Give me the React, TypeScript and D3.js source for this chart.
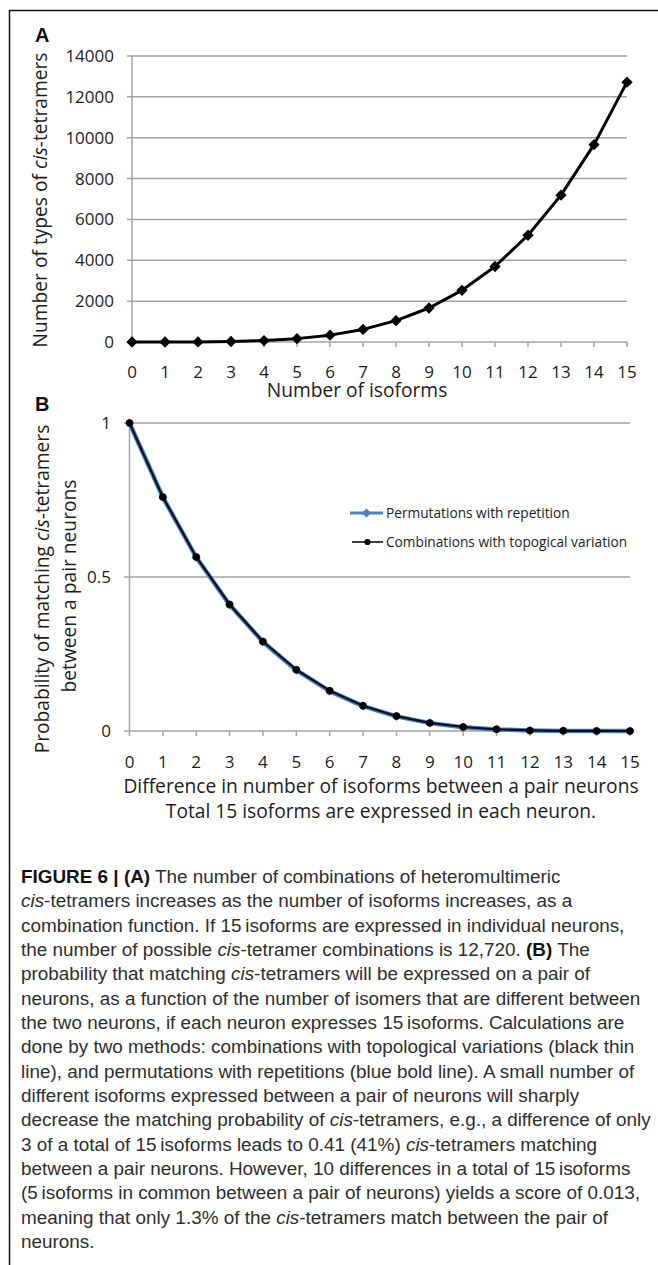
import React from "react";
import * as d3 from "d3";

// ---------- data ----------
const isoforms = d3.range(0, 16);
const tetramerTypes = [0, 1, 6, 24, 70, 165, 336, 616, 1044, 1665, 2530, 3696, 5226, 7189, 9660, 12720];
const yTicksA = [0, 2000, 4000, 6000, 8000, 10000, 12000, 14000];

const differences = d3.range(0, 16);
const permutationsRep = [1, 0.7588, 0.5642, 0.4096, 0.2892, 0.1975, 0.1296, 0.0809, 0.0474, 0.0256, 0.0123, 0.0051, 0.0016, 0.0003, 0.00002, 0];
const combinationsTopo = [1, 0.7594, 0.5652, 0.4108, 0.2906, 0.1989, 0.1309, 0.0821, 0.0484, 0.0264, 0.013, 0.0055, 0.0019, 0.0005, 0.0001, 0];
const yTicksB = [0, 0.5, 1];
const yTickLabelsB = ["0", "0.5", "1"];
const legendLabels = ["Permutations with repetition", "Combinations with topogical variation"];

type Seg = { t: string; b?: boolean; i?: boolean };
const captionLines: Seg[][] = [
  [{ t: "FIGURE 6 | (A)", b: true }, { t: " The number of combinations of heteromultimeric" }],
  [{ t: "cis", i: true }, { t: "-tetramers increases as the number of isoforms increases, as a" }],
  [{ t: "combination function. If 15\u2009isoforms are expressed in individual neurons," }],
  [{ t: "the number of possible " }, { t: "cis", i: true }, { t: "-tetramer combinations is 12,720. " }, { t: "(B)", b: true }, { t: " The" }],
  [{ t: "probability that matching " }, { t: "cis", i: true }, { t: "-tetramers will be expressed on a pair of" }],
  [{ t: "neurons, as a function of the number of isomers that are different between" }],
  [{ t: "the two neurons, if each neuron expresses 15\u2009isoforms. Calculations are" }],
  [{ t: "done by two methods: combinations with topological variations (black thin" }],
  [{ t: "line), and permutations with repetitions (blue bold line). A small number of" }],
  [{ t: "different isoforms expressed between a pair of neurons will sharply" }],
  [{ t: "decrease the matching probability of " }, { t: "cis", i: true }, { t: "-tetramers, e.g., a difference of only" }],
  [{ t: "3 of a total of 15\u2009isoforms leads to 0.41 (41%) " }, { t: "cis", i: true }, { t: "-tetramers matching" }],
  [{ t: "between a pair neurons. However, 10 differences in a total of 15\u2009isoforms" }],
  [{ t: "(5\u2009isoforms in common between a pair of neurons) yields a score of 0.013," }],
  [{ t: "meaning that only 1.3% of the " }, { t: "cis", i: true }, { t: "-tetramers match between the pair of" }],
  [{ t: "neurons." }],
];

// ---------- styles ----------
const W = 658;
const H = 1265;
const chartFont = "'Open Sans', 'Noto Sans', sans-serif";
const capFont = "'Liberation Sans', Arial, sans-serif";
const textCol = "#1c1c1c";
const gridCol = "#a3a3a3";
const blue = "#4f81bd";
const tickSize = 17;
const titleSize = 19.2;

export default function App() {
  // Panel A scales
  const xA = d3.scaleLinear().domain([0, 15]).range([132, 627]);
  const yA = d3.scaleLinear().domain([0, 14000]).range([342, 56]);
  const lineA = d3
    .line<number>()
    .x((_, i) => xA(isoforms[i]))
    .y((d) => yA(d));
  const diamond = d3.symbol().type(d3.symbolSquare).size(64)() as string;

  // Panel B scales
  const xB = d3.scaleLinear().domain([0, 15]).range([129.5, 630]);
  const yB = d3.scaleLinear().domain([0, 1]).range([731, 423]);
  const lineB = d3
    .line<number>()
    .x((_, i) => xB(differences[i]))
    .y((d) => yB(d));
  const diamondB = d3.symbol().type(d3.symbolSquare).size(42)() as string;
  const circleB = d3.symbol().type(d3.symbolCircle).size(44)() as string;

  const capStart = 883;
  const capStep = 24.33;

  return (
    <svg
      width={W}
      height={H}
      viewBox={`0 0 ${W} ${H}`}
      style={{ position: "absolute", left: 0, top: 0, display: "block", background: "#fff" }}
    >
      <rect x={0} y={0} width={W} height={H} fill="#fff" />
      {/* frame */}
      <path d={`M9.5,${H} V10.5 H${W}`} fill="none" stroke="#111" strokeWidth={1.5} />

      {/* ---------- Panel A ---------- */}
      <text x={35} y={42} fontFamily={capFont} fontWeight="bold" fontSize={20} fill="#111">
        A
      </text>
      {yTicksA.filter((t) => t > 0).map((t) => (
        <line key={t} x1={127} x2={xA(15)} y1={yA(t)} y2={yA(t)} stroke={gridCol} strokeWidth={1.5} />
      ))}
      <line x1={xA(0)} x2={xA(0)} y1={yA(14000)} y2={yA(0)} stroke={gridCol} strokeWidth={1.5} />
      <line x1={127} x2={xA(15)} y1={yA(0)} y2={yA(0)} stroke={gridCol} strokeWidth={1.5} />
      {isoforms.map((v) => (
        <line key={v} x1={xA(v)} x2={xA(v)} y1={yA(0)} y2={yA(0) + 5} stroke={gridCol} strokeWidth={1.5} />
      ))}
      {yTicksA.map((t) => (
        <text
          key={t}
          x={114}
          y={yA(t) + 6}
          textAnchor="end"
          fontFamily={chartFont}
          fontSize={tickSize}
          fill={textCol}
        >
          {t}
        </text>
      ))}
      {isoforms.map((v) => (
        <text key={v} x={xA(v)} y={377.5} textAnchor="middle" fontFamily={chartFont} fontSize={tickSize} fill={textCol}>
          {v}
        </text>
      ))}
      <text x={357} y={397} textAnchor="middle" fontFamily={chartFont} fontSize={titleSize} fill={textCol}>
        Number of isoforms
      </text>
      <text
        transform={`translate(47,200) rotate(-90)`}
        textAnchor="middle"
        fontFamily={chartFont}
        fontSize={titleSize}
        fill={textCol}
      >
        Number of types of <tspan fontStyle="italic">cis</tspan>-tetramers
      </text>
      <path d={lineA(tetramerTypes) as string} fill="none" stroke="#000" strokeWidth={3} strokeLinejoin="round" />
      {tetramerTypes.map((v, i) => (
        <path key={i} d={diamond} transform={`translate(${xA(isoforms[i])},${yA(v)}) rotate(45)`} fill="#000" />
      ))}

      {/* ---------- Panel B ---------- */}
      <text x={35} y={411} fontFamily={capFont} fontWeight="bold" fontSize={20} fill="#111">
        B
      </text>
      {yTicksB.filter((t) => t > 0).map((t) => (
        <line key={t} x1={124} x2={xB(15)} y1={yB(t)} y2={yB(t)} stroke={gridCol} strokeWidth={1.5} />
      ))}
      <line x1={xB(0)} x2={xB(0)} y1={yB(1)} y2={yB(0)} stroke={gridCol} strokeWidth={1.5} />
      <line x1={124} x2={xB(15)} y1={yB(0)} y2={yB(0)} stroke={gridCol} strokeWidth={1.5} />
      {differences.map((v) => (
        <line key={v} x1={xB(v)} x2={xB(v)} y1={yB(0)} y2={yB(0) + 5} stroke={gridCol} strokeWidth={1.5} />
      ))}
      {yTicksB.map((t, i) => (
        <text key={t} x={111} y={yB(t) + 6} textAnchor="end" fontFamily={chartFont} fontSize={tickSize} fill={textCol}>
          {yTickLabelsB[i]}
        </text>
      ))}
      {differences.map((v) => (
        <text key={v} x={xB(v)} y={768} textAnchor="middle" fontFamily={chartFont} fontSize={tickSize} fill={textCol}>
          {v}
        </text>
      ))}
      <text x={381} y={793} textAnchor="middle" fontFamily={chartFont} fontSize={titleSize} fill={textCol}>
        Difference in number of isoforms between a pair neurons
      </text>
      <text x={381} y={818} textAnchor="middle" fontFamily={chartFont} fontSize={titleSize} fill={textCol}>
        Total 15 isoforms are expressed in each neuron.
      </text>
      <text
        transform={`translate(49,589) rotate(-90)`}
        textAnchor="middle"
        fontFamily={chartFont}
        fontSize={titleSize}
        fill={textCol}
      >
        Probability of matching <tspan fontStyle="italic">cis</tspan>-tetramers
      </text>
      <text
        transform={`translate(76,586) rotate(-90)`}
        textAnchor="middle"
        fontFamily={chartFont}
        fontSize={titleSize}
        fill={textCol}
      >
        between a pair neurons
      </text>

      <path d={lineB(permutationsRep) as string} fill="none" stroke={blue} strokeWidth={4.5} strokeLinejoin="round" />
      {permutationsRep.map((v, i) => (
        <path key={i} d={diamondB} transform={`translate(${xB(differences[i])},${yB(v)}) rotate(45)`} fill={blue} />
      ))}
      <path d={lineB(combinationsTopo) as string} fill="none" stroke="#0a1020" strokeWidth={2.2} strokeLinejoin="round" />
      {combinationsTopo.map((v, i) => (
        <path key={i} d={circleB} transform={`translate(${xB(differences[i])},${yB(v)})`} fill="#000" />
      ))}

      {/* legend */}
      <line x1={350} x2={383} y1={513} y2={513} stroke={blue} strokeWidth={3} />
      <path d={diamondB} transform="translate(366.5,513) rotate(45)" fill={blue} />
      <text x={386} y={518} fontFamily={chartFont} fontSize={13.7} fill={textCol}>
        {legendLabels[0]}
      </text>
      <line x1={352} x2={383} y1={542} y2={542} stroke="#000" strokeWidth={1.5} />
      <path d={d3.symbol().type(d3.symbolCircle).size(30)() as string} transform="translate(367.5,542)" fill="#000" />
      <text x={386} y={547} fontFamily={chartFont} fontSize={13.7} fill={textCol}>
        {legendLabels[1]}
      </text>

      {/* ---------- caption ---------- */}
      {captionLines.map((segs, li) => (
        <text key={li} x={21} y={capStart + li * capStep} fontFamily={capFont} fontSize={18.9} fill="#2e2e2e">
          {segs.map((s, si) => (
            <tspan
              key={si}
              fontWeight={s.b ? "bold" : "normal"}
              fontStyle={s.i ? "italic" : "normal"}
              fill={s.b ? "#111" : undefined}
            >
              {s.t}
            </tspan>
          ))}
        </text>
      ))}
    </svg>
  );
}
